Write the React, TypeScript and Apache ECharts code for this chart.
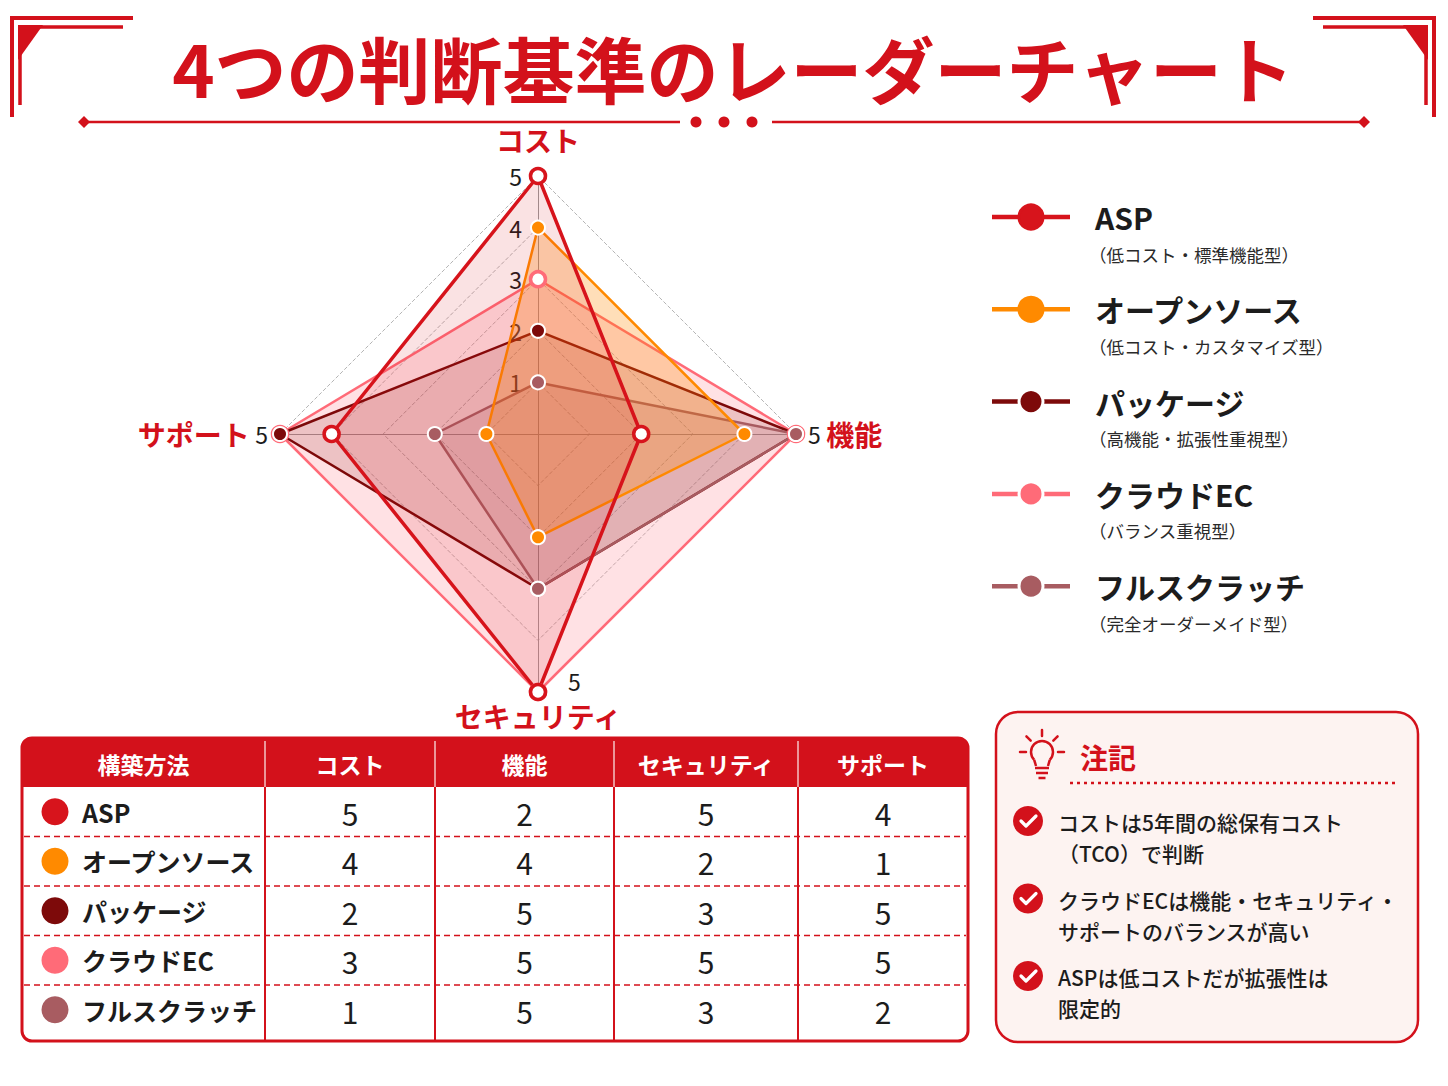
import React, { useEffect, useRef } from "react";
import * as echarts from "echarts";

const FONT = "'Noto Sans CJK JP', 'Noto Sans', sans-serif";
const RED = "#d3111b";
const INK = "#1c1c1c";

// 構築方法ごとのスコア（表と同じ並び）
const methods = ["ASP", "オープンソース", "パッケージ", "クラウドEC", "フルスクラッチ"];
const methodTypes = [
  "（低コスト・標準機能型）",
  "（低コスト・カスタマイズ型）",
  "（高機能・拡張性重視型）",
  "（バランス重視型）",
  "（完全オーダーメイド型）",
];
const methodColors = ["#d7141c", "#ff8a00", "#7d0a0a", "#ff6b78", "#a85c61"];
const areaOpacity = [0.12, 0.28, 0.14, 0.2, 0.16];

const criteria = ["コスト", "機能", "セキュリティ", "サポート"];
const costScores = [5, 4, 2, 3, 1];
const functionScores = [2, 4, 5, 5, 5];
const securityScores = [5, 2, 3, 5, 3];
const supportScores = [4, 1, 5, 5, 2];
const scoreMax = 5;

const noteLines = [
  ["コストは5年間の総保有コスト", "（TCO）で判断"],
  ["クラウドECは機能・セキュリティ・", "サポートのバランスが高い"],
  ["ASPは低コストだが拡張性は", "限定的"],
];

const scoresByCriterion = [costScores, functionScores, securityScores, supportScores];
// radar runs counter-clockwise from the top: コスト, サポート, セキュリティ, 機能
const radarAxes = [0, 3, 2, 1];
const drawOrder = [3, 2, 4, 1, 0];

const txt = (text: string, x: number, y: number, s: any = {}) => ({
  type: "text",
  silent: true,
  x,
  y,
  style: {
    text,
    fill: INK,
    fontFamily: FONT,
    fontSize: 20,
    textAlign: "left",
    textVerticalAlign: "middle",
    ...s,
  },
});

const line = (x1: number, y1: number, x2: number, y2: number, s: any = {}) => ({
  type: "line",
  silent: true,
  shape: { x1, y1, x2, y2 },
  style: { stroke: RED, lineWidth: 2, ...s },
});

function buildGraphic() {
  const g: any[] = [];

  // title
  g.push(
    txt("4つの判断基準のレーダーチャート", 733, 66, {
      fill: RED,
      fontSize: 72,
      fontWeight: "bold",
      textAlign: "center",
    })
  );
  [false, true].forEach((flip) => {
    const f = (p: number[][]) => p.map(([x, y]) => [flip ? 1446 - x : x, y]);
    g.push(
      { type: "polyline", silent: true, shape: { points: f([[133, 18], [12, 18], [12, 117]]) }, style: { stroke: RED, lineWidth: 4, fill: "none" } },
      { type: "polyline", silent: true, shape: { points: f([[123, 27], [20, 27], [20, 105]]) }, style: { stroke: RED, lineWidth: 3.5, fill: "none" } },
      { type: "polygon", silent: true, shape: { points: f([[18, 25], [43, 25], [18, 60]]) }, style: { fill: RED } }
    );
  });
  g.push(line(88, 122, 680, 122, { lineWidth: 2.5 }), line(772, 122, 1360, 122, { lineWidth: 2.5 }));
  [84, 1364].forEach((x) =>
    g.push({ type: "polygon", silent: true, shape: { points: [[x - 6, 122], [x, 116], [x + 6, 122], [x, 128]] }, style: { fill: RED } })
  );
  [696, 724, 752].forEach((x) =>
    g.push({ type: "circle", silent: true, shape: { cx: x, cy: 122, r: 5.5 }, style: { fill: RED } })
  );

  // legend
  methods.forEach((name, i) => {
    const y = 217 + i * 92.3;
    const c = methodColors[i];
    g.push(
      line(992, y, 1070, y, { stroke: c, lineWidth: 4.5 }),
      { type: "circle", silent: true, shape: { cx: 1031, cy: y, r: 12 }, style: { fill: c, stroke: i >= 2 ? "#fff" : c, lineWidth: 3 } },
      txt(name, 1095, y, { fontSize: 30, fontWeight: "bold" }),
      txt(methodTypes[i], 1089, y + 37, { fontSize: 17.5, fill: "#2a2a2a" })
    );
  });

  // table
  const cols = [22, 265, 435, 614, 798, 968];
  const top = 738;
  const headH = 49;
  const bottom = 1041;
  const rowH = 49.5;
  g.push(
    { type: "rect", silent: true, shape: { x: 22, y: top, width: 946, height: bottom - top, r: 10 }, style: { fill: "#fff", stroke: RED, lineWidth: 3 } },
    { type: "rect", silent: true, shape: { x: 22, y: top, width: 946, height: headH, r: [10, 10, 0, 0] }, style: { fill: RED } }
  );
  for (let k = 1; k < 5; k++) {
    g.push(line(cols[k], top + 3, cols[k], top + headH, { stroke: "rgba(255,255,255,0.75)", lineWidth: 1.5 }));
    g.push(line(cols[k], top + headH, cols[k], bottom, { lineWidth: 2 }));
  }
  for (let r = 1; r < 5; r++) {
    const y = top + headH + r * rowH;
    g.push(line(24, y, 966, y, { lineWidth: 1.5, lineDash: [6, 4] }));
  }
  ["構築方法", ...criteria].forEach((h, k) =>
    g.push(txt(h, (cols[k] + cols[k + 1]) / 2, top + headH / 2 + 1, { fill: "#fff", fontSize: 23, fontWeight: "bold", textAlign: "center" }))
  );
  methods.forEach((name, i) => {
    const y = top + headH + i * rowH + rowH / 2;
    g.push(
      { type: "circle", silent: true, shape: { cx: 55, cy: y, r: 13.5 }, style: { fill: methodColors[i] } },
      txt(name, 82, y, { fontSize: 25, fontWeight: "bold" })
    );
    scoresByCriterion.forEach((scores, k) =>
      g.push(txt(String(scores[i]), (cols[k + 1] + cols[k + 2]) / 2, y + 1, { fontSize: 30, textAlign: "center" }))
    );
  });

  // notes box
  g.push({ type: "rect", silent: true, shape: { x: 996, y: 712, width: 422, height: 330, r: 22 }, style: { fill: "#fdf3f1", stroke: RED, lineWidth: 2.5 } });
  const bx = 1042;
  const by = 752;
  g.push(
    { type: "arc", silent: true, shape: { cx: bx, cy: by, r: 11, startAngle: Math.PI * 0.75, endAngle: Math.PI * 2.25, clockwise: true }, style: { stroke: RED, lineWidth: 2.5, fill: "none" } },
    { type: "polyline", silent: true, shape: { points: [[bx - 7.8, by + 7.8], [bx - 6, by + 14]] }, style: { stroke: RED, lineWidth: 2.5, fill: "none" } },
    { type: "polyline", silent: true, shape: { points: [[bx + 7.8, by + 7.8], [bx + 6, by + 14]] }, style: { stroke: RED, lineWidth: 2.5, fill: "none" } },
    line(bx - 7, by + 16, bx + 7, by + 16, { lineWidth: 2.5 }),
    line(bx - 6, by + 21, bx + 6, by + 21, { lineWidth: 2.5 }),
    line(bx - 3.5, by + 26, bx + 3.5, by + 26, { lineWidth: 2.5 })
  );
  [-90, -45, -135, 0, 180].forEach((deg) => {
    const a = (deg * Math.PI) / 180;
    g.push(line(bx + 16 * Math.cos(a), by + 16 * Math.sin(a), bx + 22 * Math.cos(a), by + 22 * Math.sin(a), { lineWidth: 2.5, lineCap: "round" }));
  });
  g.push(
    txt("注記", 1080, 757, { fill: RED, fontSize: 28, fontWeight: "bold" }),
    line(1070, 783, 1396, 783, { lineWidth: 2.5, lineDash: [3, 4] })
  );
  noteLines.forEach((pair, i) => {
    const y = 821 + i * 77.5;
    g.push(
      { type: "circle", silent: true, shape: { cx: 1028, cy: y, r: 15 }, style: { fill: RED } },
      { type: "polyline", silent: true, shape: { points: [[1021, y], [1026, y + 5], [1036, y - 5]] }, style: { stroke: "#fff", lineWidth: 3.2, fill: "none", lineCap: "round", lineJoin: "round" } }
    );
    pair.forEach((t, j) => g.push(txt(t, 1058, y + 1 + j * 31, { fontSize: 21, fontWeight: 500 })));
  });

  return g;
}

const App: React.FC = () => {
  const chartRef = useRef<HTMLDivElement>(null);

  useEffect(() => {
    document.body.style.margin = "0";
    const chart = echarts.init(chartRef.current!, undefined, { renderer: "svg" });

    const radarData = drawOrder.map((m) => {
      const color = methodColors[m];
      const ring = m === 0 || m === 3;
      return {
        name: methods[m],
        value: radarAxes.map((c) => scoresByCriterion[c][m]),
        symbol: "circle",
        symbolSize: ring ? 15 : 14,
        lineStyle: { color, width: m === 0 ? 3.5 : 2.5 },
        itemStyle: ring
          ? { color: "#fff", borderColor: color, borderWidth: 3.5 }
          : { color, borderColor: "#fff", borderWidth: 2 },
        areaStyle: { color, opacity: areaOpacity[m] },
      };
    });

    const tickLabel = { color: INK, fontSize: 23, fontFamily: FONT };
    const nameGaps = [22, 12, 10, 12];

    const option = {
      animation: false,
      textStyle: { fontFamily: FONT },
      radar: {
        center: [538, 434],
        radius: 258,
        shape: "polygon",
        splitNumber: 5,
        axisName: {
          formatter: (name: string) => {
            if (name === criteria[1]) return `{v|${scoreMax}}  {n|${name}}`;
            if (name === criteria[3]) return `{n|${name}}  {v|${scoreMax}}`;
            return `{n|${name}}`;
          },
          rich: {
            n: { color: RED, fontSize: 28, fontWeight: "bold", fontFamily: FONT },
            v: { color: INK, fontSize: 23, fontFamily: FONT },
          },
        },
        axisLine: { lineStyle: { color: "#9a9a9a", width: 1 } },
        splitLine: { lineStyle: { color: "#b5b5b5", width: 1, type: "dashed" } },
        splitArea: { show: false },
        axisLabel: { show: false },
        indicator: radarAxes.map((c, k) => ({
          name: criteria[c],
          min: 0,
          max: scoreMax,
          nameGap: nameGaps[k],
          axisLabel:
            k === 0
              ? { ...tickLabel, show: true, margin: 16, formatter: (v: number) => (v > 0 ? String(v) : "") }
              : k === 2
              ? { ...tickLabel, show: true, margin: 30, verticalAlign: "bottom", formatter: (v: number) => (v === scoreMax ? String(v) : "") }
              : { show: false },
        })),
      },
      series: [{ type: "radar", data: radarData }],
      graphic: buildGraphic(),
    };

    chart.setOption(option as any);

    return () => {
      chart.dispose();
    };
  }, []);

  return <div ref={chartRef} style={{ width: "1448px", height: "1086px" }} />;
};

export default App;
